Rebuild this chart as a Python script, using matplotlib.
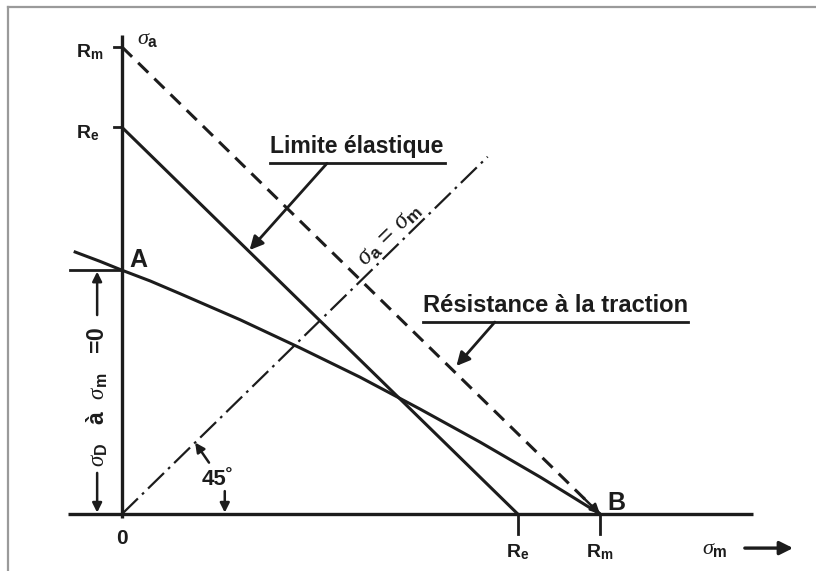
import matplotlib
matplotlib.use("Agg")
import matplotlib.pyplot as plt
from matplotlib.lines import Line2D

plt.rcParams['font.family'] = ['Liberation Sans', 'DejaVu Sans']
plt.rcParams['mathtext.fontset'] = 'custom'
plt.rcParams['mathtext.rm'] = 'Liberation Sans'
plt.rcParams['mathtext.it'] = 'Liberation Serif:italic'
plt.rcParams['mathtext.bf'] = 'Liberation Sans:bold'

# Material characteristics (same stress units on both axes)
R_m = 100.0       # tensile strength (point B on the mean-stress axis)
R_e = 82.8        # yield strength
sigma_D = 52.2    # endurance limit for zero mean stress (point A)

# Fatigue limit curve from A to B (mean stress, stress amplitude)
curve_sigma_m = [-9.8, -4.6, 0.0, 5.9, 12.1, 24.7, 37.2, 49.8, 62.3,
                 74.9, 87.5, 93.7, 100.0]
curve_sigma_a = [56.1, 54.1, 52.2, 49.9, 47.2, 41.6, 35.6, 29.3, 22.5,
                 15.4, 7.9, 4.0, 0.0]

# Extent of the sigma_a = sigma_m line
diag_end = 76.5

# Axis labels
x_tick_values = [R_e, R_m]
x_tick_labels = [r'R$_\mathbf{e}$', r'R$_\mathbf{m}$']
y_tick_values = [R_e, R_m]
y_tick_labels = [r'R$_\mathbf{e}$', r'R$_\mathbf{m}$']

INK = '#1c1c1c'

fig = plt.figure(figsize=(8.16, 5.71), dpi=100)
fig.patch.set_facecolor('white')
ax = fig.add_axes([0, 0, 1, 1])
ax.set_xlim(-122 / 4.78, (816 - 122) / 4.78)
ax.set_ylim(-(571 - 514) / 4.67, 514 / 4.67)
ax.axis('off')

# Page frame
fig.add_artist(Line2D([8 / 816, 1.0], [1 - 7 / 571] * 2, transform=fig.transFigure,
                      color='#9a9a9a', lw=1.6))
fig.add_artist(Line2D([8 / 816] * 2, [0.0, 1 - 7 / 571], transform=fig.transFigure,
                      color='#9a9a9a', lw=1.6))

# Axes
ax.plot([-11.3, 132.0], [0, 0], color=INK, lw=2.4, solid_capstyle='butt')
ax.plot([0, 0], [-0.9, 102.6], color=INK, lw=2.4, solid_capstyle='butt')

# Ticks on the axes
for v in y_tick_values:
    ax.plot([-1.6, 0], [v, v], color=INK, lw=2.0)
for v in x_tick_values:
    ax.plot([v, v], [0, -4.2], color=INK, lw=2.0)

# Tensile strength line (dashed)
ax.plot([0, R_m], [R_m, 0], color=INK, lw=2.2, linestyle=(0, (4.6, 2.8)))
ax.annotate('', xy=(R_m, 0), xytext=(R_m - 3.5, 3.5),
            arrowprops=dict(arrowstyle='-|>', color=INK, lw=1.8,
                            mutation_scale=14, shrinkA=0, shrinkB=0))

# Yield line
ax.plot([0, R_e], [R_e, 0], color=INK, lw=2.2)

# Fatigue limit curve
ax.plot(curve_sigma_m, curve_sigma_a, color=INK, lw=2.2,
        solid_joinstyle='round')

# sigma_a = sigma_m line
ax.plot([0, diag_end], [0, diag_end], color=INK, lw=1.6,
        linestyle=(0, (10, 2.6, 1.2, 2.6)))
ax.annotate(r'$\sigma_\mathbf{a}$ = $\sigma_\mathbf{m}$', xy=(58.0, 58.0),
            xytext=(-4, 3), textcoords='offset points', rotation=44.3,
            rotation_mode='anchor', ha='center', va='baseline',
            fontsize=18, color=INK)

# Extension line at A and dimension arrows for sigma_D
ax.plot([-10.9, 0], [sigma_D, sigma_D], color=INK, lw=2.0)
arrow_kw = dict(arrowstyle='-|>', color=INK, lw=1.8, mutation_scale=14,
                shrinkA=0, shrinkB=0)
ax.annotate('', xy=(-5.2, sigma_D - 0.3), xytext=(-5.2, 42.6), arrowprops=arrow_kw)
ax.annotate('', xy=(-5.2, 0.3), xytext=(-5.2, 8.8), arrowprops=arrow_kw)
ax.text(-5.2, 25.0, r'$\sigma_\mathbf{D}$   à  $\sigma_\mathbf{m}$   =0', rotation=90,
        ha='center', va='center', fontsize=16.5, fontweight='bold', color=INK)

# 45 degree marker
ax.text(16.7, 7.3, '45˚', ha='left', va='center', fontsize=16,
        fontweight='bold', color=INK)
ax.annotate('', xy=(21.5, 0.3), xytext=(21.5, 4.9), arrowprops=arrow_kw)
ax.annotate('', xy=(15.3, 15.3), xytext=(18.2, 11.0), arrowprops=arrow_kw)

# Points A and B
ax.text(1.6, 52.8, 'A', ha='left', va='baseline', fontsize=18,
        fontweight='bold', color=INK)
ax.text(101.5, 0.9, 'B', ha='left', va='baseline', fontsize=18,
        fontweight='bold', color=INK)

# Axis labels
ax.text(0, -3.2, '0', ha='center', va='top', fontsize=15, fontweight='bold',
        color=INK)
for v, lab in zip(x_tick_values, x_tick_labels):
    ax.text(v, -6.0, lab, ha='center', va='top', fontsize=14,
            fontweight='bold', color=INK)
for v, lab in zip(y_tick_values, y_tick_labels):
    ax.text(-9.7, v - 1.2, lab, ha='left', va='center', fontsize=14,
            fontweight='bold', color=INK)
ax.text(3.1, 101.8, r'$\sigma_\mathbf{a}$', ha='left', va='center', fontsize=16,
        color=INK)
ax.text(126.8, -7.4, r'$\sigma_\mathbf{m}$', ha='right', va='center', fontsize=16,
        color=INK)
ax.annotate('', xy=(140.4, -7.3), xytext=(130.3, -7.3),
            arrowprops=dict(arrowstyle='-|>', color=INK, lw=2.4,
                            mutation_scale=20, shrinkA=0, shrinkB=0))

# Callout: yield limit
ax.text(31.0, 77.2, 'Limite élastique', ha='left', va='baseline', fontsize=16.6,
        fontweight='bold', color=INK)
ax.plot([31.0, 67.6], [75.1, 75.1], color=INK, lw=2.0)
ax.annotate('', xy=(26.5, R_e - 26.5), xytext=(42.9, 75.1),
            arrowprops=dict(arrowstyle='-|>', color=INK, lw=2.0,
                            mutation_scale=20, shrinkA=0, shrinkB=1))

# Callout: tensile strength
ax.text(63.0, 43.3, 'Résistance à la traction', ha='left', va='baseline',
        fontsize=17.1, fontweight='bold', color=INK)
ax.plot([63.0, 118.4], [41.1, 41.1], color=INK, lw=2.0)
ax.annotate('', xy=(69.2, R_m - 69.2), xytext=(78.0, 41.1),
            arrowprops=dict(arrowstyle='-|>', color=INK, lw=2.0,
                            mutation_scale=20, shrinkA=0, shrinkB=4))

fig.savefig('out.png', dpi=100, facecolor='white')
